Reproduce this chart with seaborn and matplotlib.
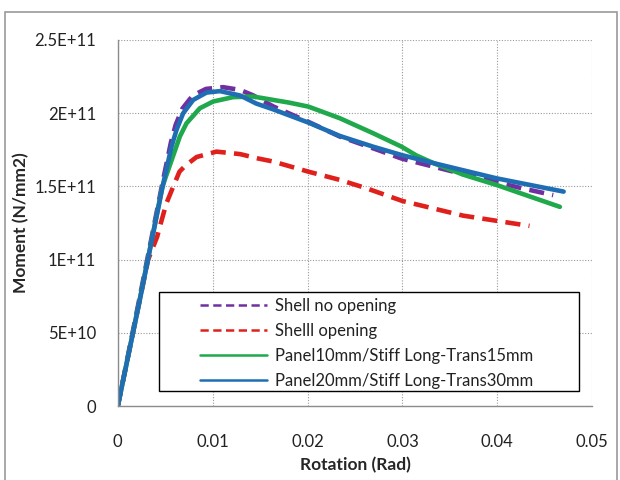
import matplotlib
matplotlib.use("Agg")
import matplotlib.pyplot as plt
import seaborn as sns
import pandas as pd
from matplotlib.patches import Rectangle

# ---- data ----
purple_x = [0, 0.0023, 0.0047, 0.0056, 0.0061, 0.0068, 0.0079, 0.0093, 0.0111, 0.0129, 0.0143,
            0.0164, 0.0201, 0.0234, 0.0269, 0.0299, 0.0311, 0.0360, 0.0424, 0.0459]
purple_y = [0, 0.74e11, 1.52e11, 1.80e11, 1.92e11, 2.03e11, 2.12e11, 2.165e11, 2.177e11, 2.158e11, 2.12e11,
            2.045e11, 1.94e11, 1.84e11, 1.76e11, 1.69e11, 1.67e11, 1.59e11, 1.49e11, 1.44e11]

red_x = [0, 0.0032, 0.00415, 0.00443, 0.00513, 0.00584, 0.0065, 0.0071, 0.0083, 0.0104, 0.0129,
         0.0148, 0.0164, 0.0201, 0.0234, 0.0262, 0.030, 0.0364, 0.0434]
red_y = [0, 1.0e11, 1.156e11, 1.225e11, 1.385e11, 1.498e11, 1.60e11, 1.64e11, 1.70e11, 1.737e11, 1.72e11,
         1.69e11, 1.669e11, 1.60e11, 1.544e11, 1.487e11, 1.40e11, 1.30e11, 1.23e11]

green_x = [0, 0.0023, 0.0047, 0.00654, 0.00724, 0.00865, 0.01005, 0.01216, 0.01427, 0.0181, 0.0201,
           0.0234, 0.0269, 0.0299, 0.0315, 0.0334, 0.0364, 0.0399, 0.0466]
green_y = [0, 0.724e11, 1.498e11, 1.84e11, 1.93e11, 2.033e11, 2.079e11, 2.109e11, 2.113e11, 2.071e11, 2.044e11,
           1.965e11, 1.863e11, 1.771e11, 1.71e11, 1.655e11, 1.58e11, 1.51e11, 1.36e11]

blue_x = [0, 0.00232, 0.00472, 0.00566, 0.00619, 0.00689, 0.00795, 0.00935, 0.01076, 0.0129, 0.0146,
          0.0164, 0.0201, 0.0234, 0.0269, 0.0299, 0.0332, 0.0399, 0.047]
blue_y = [0, 0.724e11, 1.498e11, 1.771e11, 1.885e11, 1.999e11, 2.09e11, 2.14e11, 2.15e11, 2.12e11, 2.065e11,
          2.025e11, 1.935e11, 1.844e11, 1.771e11, 1.714e11, 1.66e11, 1.555e11, 1.464e11]

series_names = ["Shell no opening", "Shelll opening",
                "Panel10mm/Stiff Long-Trans15mm", "Panel20mm/Stiff Long-Trans30mm"]

x_ticks = [0, 0.01, 0.02, 0.03, 0.04, 0.05]
x_labels = ["0", "0.01", "0.02", "0.03", "0.04", "0.05"]
y_ticks = [0, 5e10, 1e11, 1.5e11, 2e11, 2.5e11]
y_labels = ["0", "5E+10", "1E+11", "1.5E+11", "2E+11", "2.5E+11"]

colors = ["#7030A0", "#E0201C", "#1FA84C", "#1F6EB4"]

sns.set_style("white")
plt.rcParams['font.family'] = ['Lato', 'DejaVu Sans']

fig = plt.figure(figsize=(6.2, 4.8), dpi=100)
ax = fig.add_axes([0.190, 0.154, 0.765, 0.763])

data = [(purple_x, purple_y), (red_x, red_y), (green_x, green_y), (blue_x, blue_y)]
order = [1, 0, 2, 3]
handles = {}
for i in order:
    xs, ys = data[i]
    df = pd.DataFrame({"x": xs, "y": ys})
    sns.lineplot(data=df, x="x", y="y", ax=ax, color=colors[i], lw=3.3,
                 sort=False, estimator=None, label=series_names[i],
                 solid_capstyle="round", solid_joinstyle="round")
    line = ax.get_lines()[-1]
    if i < 2:
        line.set_dashes((3.3, 1.8))
        line.set_dash_capstyle("butt")
        line.set_dash_joinstyle("round")
    handles[i] = line

ax.set_xlim(0, 0.05)
ax.set_ylim(0, 2.5e11)
ax.set_xticks(x_ticks)
ax.set_xticklabels(x_labels, fontsize=12)
ax.set_yticks(y_ticks)
ax.set_yticklabels(y_labels, fontsize=12)
ax.tick_params(length=0, pad=20, axis="x", colors="#222222")
ax.tick_params(length=0, pad=15.5, axis="y", colors="#222222")
ax.grid(True, linestyle=(0, (1, 1.5)), color="#9a9a9a", lw=0.8)
ax.set_axisbelow(True)
for s in ["top", "right"]:
    ax.spines[s].set_visible(False)
for s in ["left", "bottom"]:
    ax.spines[s].set_color("#8c8c8c")
    ax.spines[s].set_linewidth(1.0)

ax.set_xlabel("Rotation (Rad)", fontsize=12.5, fontweight="bold")
ax.set_ylabel("Moment (N/mm2)", fontsize=12.5, fontweight="bold")
ax.xaxis.set_label_coords(0.5, -0.139)
ax.yaxis.set_label_coords(-0.186, 0.5)

# legend frame (drawn separately to match the reference box)
ax.add_patch(Rectangle((0.0865, 0.041), 0.8861, 0.2705, transform=ax.transAxes,
                       facecolor="white", edgecolor="black", lw=1.0, zorder=5))
leg = ax.legend([handles[i] for i in range(4)], series_names,
                loc="upper left", bbox_to_anchor=(0.173, 0.296),
                fontsize=12, frameon=False, handlelength=4.05,
                handletextpad=0.45, borderpad=0, labelspacing=0.55,
                borderaxespad=0)
leg.set_zorder(6)
for lh in leg.get_lines():
    lh.set_linewidth(1.8)
for t in leg.get_texts():
    t.set_color("#222222")

fig.patches.append(Rectangle((5 / 620, -0.05), 612 / 620, 1 - 12 / 480 + 0.05,
                             transform=fig.transFigure, fill=False,
                             edgecolor="#9a9a9a", lw=1.2))

fig.savefig("out.png", dpi=100)
